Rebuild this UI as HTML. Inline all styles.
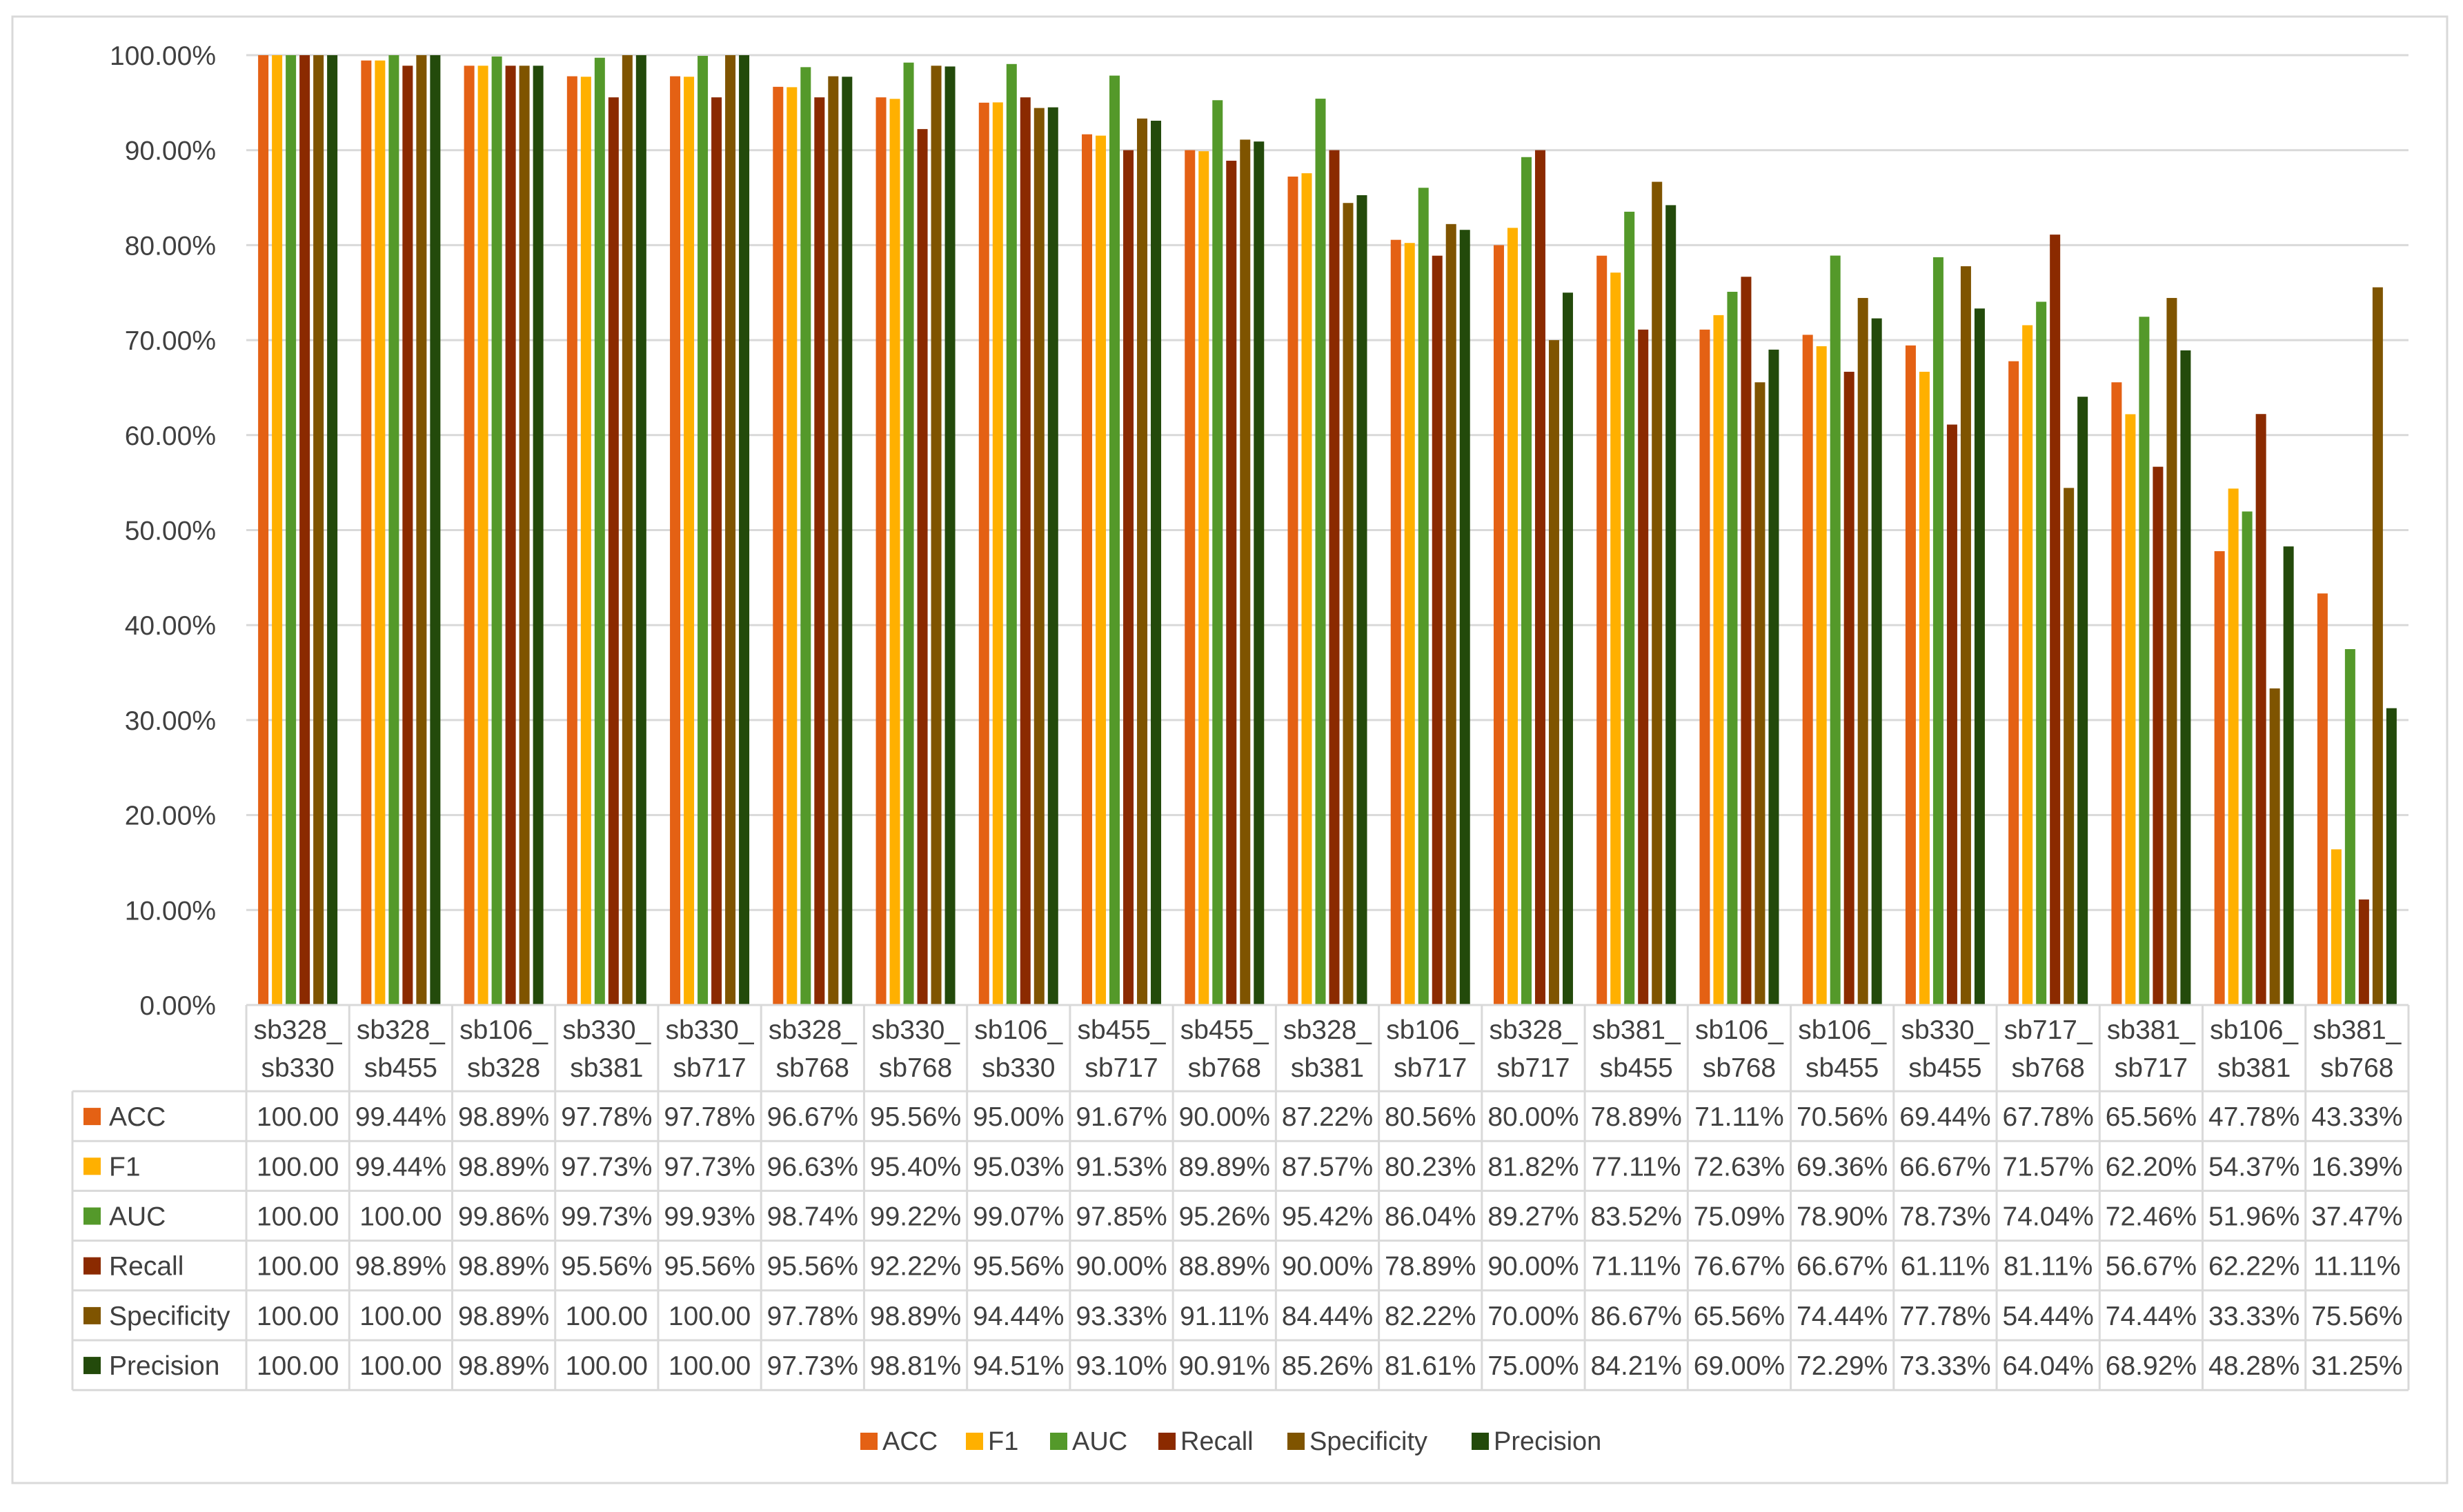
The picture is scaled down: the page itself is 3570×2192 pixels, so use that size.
<!DOCTYPE html>
<html><head><meta charset="utf-8"><style>
html,body{margin:0;padding:0;background:#fff;}
svg{display:block;font-family:"Liberation Sans",sans-serif;}
</style></head><body>
<svg id="chart" width="3570" height="2192" viewBox="0 0 3570 2192" xmlns="http://www.w3.org/2000/svg">
<rect x="18" y="24" width="3529" height="2126" fill="#fff" stroke="#d9d9d9" stroke-width="3"/>
<g id="grid"></g><g id="bars"></g><g id="table"></g><g id="legend"></g>
</svg>
<script>
const categories = ["sb328_|sb330","sb328_|sb455","sb106_|sb328","sb330_|sb381","sb330_|sb717","sb328_|sb768","sb330_|sb768","sb106_|sb330","sb455_|sb717","sb455_|sb768","sb328_|sb381","sb106_|sb717","sb328_|sb717","sb381_|sb455","sb106_|sb768","sb106_|sb455","sb330_|sb455","sb717_|sb768","sb381_|sb717","sb106_|sb381","sb381_|sb768"];
const seriesNames = ["ACC","F1","AUC","Recall","Specificity","Precision"];
const accValues = [100,99.44,98.89,97.78,97.78,96.67,95.56,95.00,91.67,90.00,87.22,80.56,80.00,78.89,71.11,70.56,69.44,67.78,65.56,47.78,43.33];
const f1Values = [100,99.44,98.89,97.73,97.73,96.63,95.40,95.03,91.53,89.89,87.57,80.23,81.82,77.11,72.63,69.36,66.67,71.57,62.20,54.37,16.39];
const aucValues = [100,100,99.86,99.73,99.93,98.74,99.22,99.07,97.85,95.26,95.42,86.04,89.27,83.52,75.09,78.90,78.73,74.04,72.46,51.96,37.47];
const recallValues = [100,98.89,98.89,95.56,95.56,95.56,92.22,95.56,90.00,88.89,90.00,78.89,90.00,71.11,76.67,66.67,61.11,81.11,56.67,62.22,11.11];
const specValues = [100,100,98.89,100,100,97.78,98.89,94.44,93.33,91.11,84.44,82.22,70.00,86.67,65.56,74.44,77.78,54.44,74.44,33.33,75.56];
const precValues = [100,100,98.89,100,100,97.73,98.81,94.51,93.10,90.91,85.26,81.61,75.00,84.21,69.00,72.29,73.33,64.04,68.92,48.28,31.25];
const yTicks = [0,10,20,30,40,50,60,70,80,90,100];

const series = [accValues,f1Values,aucValues,recallValues,specValues,precValues];
const colors = ["#E46114","#FFB000","#54992A","#8B2A00","#7F5400","#234A0B"];
const NS="http://www.w3.org/2000/svg";
const X0=357, X1=3491, Y0=1457, Y100=80;
const cw=(X1-X0)/categories.length;
const yScale=v=>Y0-(v/100)*(Y0-Y100);
const xBand=i=>X0+i*cw;
function mk(tag,attrs,parent){const e=document.createElementNS(NS,tag);for(const k in attrs)e.setAttribute(k,attrs[k]);parent.appendChild(e);return e;}
const grid=document.getElementById('grid'),bars=document.getElementById('bars'),table=document.getElementById('table'),legend=document.getElementById('legend');
const txtColor="#404040";
yTicks.forEach(t=>{
  const y=yScale(t);
  const l=mk('line',{x1:X0,x2:X1,y1:y,y2:y,stroke:'#d9d9d9','stroke-width':3},grid);
  
  
  const tx=mk('text',{x:313,y:y+14,'text-anchor':'end','font-size':39,fill:txtColor},grid);
  tx.textContent=t.toFixed(2)+'%';
  
  
});
const bw=15, pitch=20;
categories.forEach((c,i)=>{
  const cx=xBand(i)+cw/2;
  const start=cx-(pitch*6-(pitch-bw))/2;
  series.forEach((s,j)=>{
    const y=yScale(s[i]);
    const r=mk('rect',{x:start+j*pitch,y:y,width:bw,height:Y0-y,fill:colors[j]},bars);
    
    
  });
});
const TL=105, HT=1457, HB=1582, RH=72.2;
const lineAttr={stroke:'#d9d9d9','stroke-width':3};
const TB=HB+RH*6;
mk('line',Object.assign({x1:X0,x2:X1,y1:HT,y2:HT},lineAttr),table);
for(let r=0;r<=6;r++){const y=HB+r*RH;mk('line',Object.assign({x1:TL,x2:X1,y1:y,y2:y},lineAttr),table);}
mk('line',Object.assign({x1:TL,x2:TL,y1:HB,y2:TB},lineAttr),table);
for(let i=0;i<=categories.length;i++){const x=xBand(i);mk('line',Object.assign({x1:x,x2:x,y1:HT,y2:TB},lineAttr),table);}
categories.forEach((c,i)=>{
  const cx=xBand(i)+cw/2;const parts=c.split('|');
  const t1=mk('text',{x:cx,y:1506,'text-anchor':'middle','font-size':39,fill:txtColor},table);t1.textContent=parts[0];
  
  
  const t2=mk('text',{x:cx,y:1561,'text-anchor':'middle','font-size':39,fill:txtColor},table);t2.textContent=parts[1];
  
  
});
series.forEach((s,j)=>{
  const yc=HB+j*RH+RH/2;
  const sq=mk('rect',{x:121,y:yc-12,width:25,height:25,fill:colors[j]},table);
  
  
  const lt=mk('text',{x:158,y:yc+14,'font-size':39,fill:txtColor},table);lt.textContent=seriesNames[j];
  
  
  s.forEach((v,i)=>{
    const cx=xBand(i)+cw/2;
    let str=v.toFixed(2)+'%'; if(v>=100) str='100.00';
    const t=mk('text',{x:cx,y:yc+14,'text-anchor':'middle','font-size':39,fill:txtColor},table);t.textContent=str;
    
    
  });
});
const legX=[1247,1400,1522,1679,1866,2133];
seriesNames.forEach((n,j)=>{
  const g=mk('g',{},legend);
  
  
  mk('rect',{x:legX[j],y:2077,width:25,height:25,fill:colors[j]},g);
  const t=mk('text',{x:legX[j]+32,y:2102,'font-size':38,fill:txtColor},g);t.textContent=n;
});
</script>
</body></html>
